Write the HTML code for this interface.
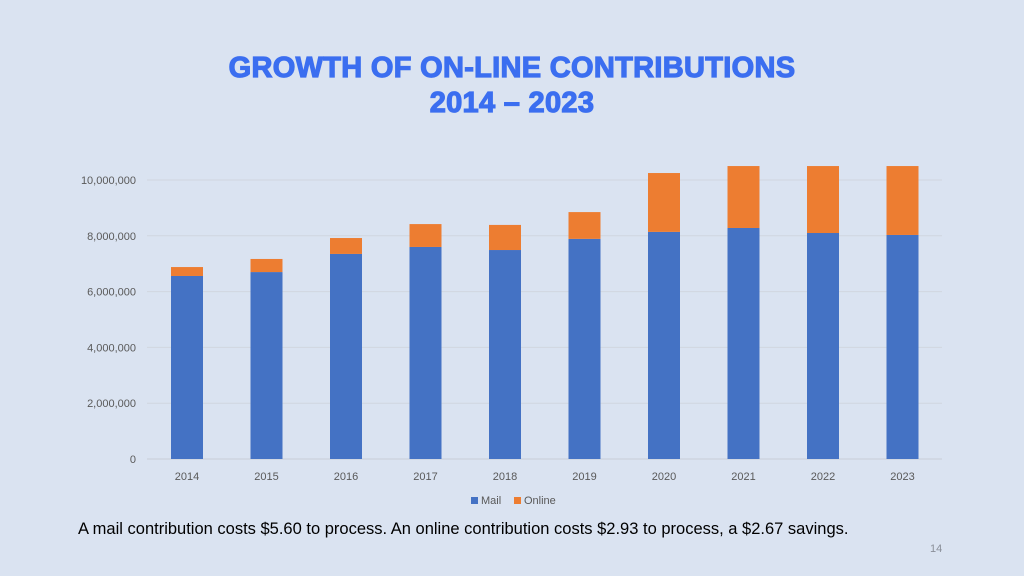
<!DOCTYPE html>
<html><head><meta charset="utf-8"><style>
body{margin:0;width:1024px;height:576px;background:#dae3f1;font-family:"Liberation Sans",sans-serif;overflow:hidden;position:relative}
.t{position:absolute;left:0;width:1024px;text-align:center;color:#3b6ef0;font-weight:bold;font-size:29px;-webkit-text-stroke:1.2px #3b6ef0;letter-spacing:0.3px}
</style></head><body>
<div class="t" style="top:52px">GROWTH OF ON-LINE CONTRIBUTIONS</div>
<div class="t" style="top:87px">2014 – 2023</div>
<svg id="c" width="1024" height="576" style="position:absolute;left:0;top:0"></svg>
<div style="position:absolute;left:78px;top:520px;font-size:16.5px;color:#000">A mail contribution costs $5.60 to process. An online contribution costs $2.93 to process, a $2.67 savings.</div>
<div style="position:absolute;left:930px;top:543px;font-size:11px;color:#8a8f99">14</div>
<script>
const years=["2014","2015","2016","2017","2018","2019","2020","2021","2022","2023"];
const mail=[6.56,6.70,7.35,7.60,7.49,7.89,8.14,8.28,8.10,8.03];
const online=[0.32,0.47,0.57,0.82,0.90,0.96,2.11,2.22,2.40,2.47];
const ticks=[0,2,4,6,8,10];
const ns="http://www.w3.org/2000/svg",svg=document.getElementById('c');
const y=v=>459-v*27.9, x=i=>187+i*79.5;
function mk(t,a){const e=document.createElementNS(ns,t);for(const k in a)e.setAttribute(k,a[k]);svg.appendChild(e);return e;}
ticks.forEach(t=>{
 const g=mk('line',{x1:147,x2:942,y1:y(t),y2:y(t),stroke:t?'#d0d6e0':'#c8ced8','stroke-width':1});
 
 const l=mk('text',{x:136,y:y(t)+4,'text-anchor':'end','font-size':11,fill:'#595959'});
 l.textContent=t?(t*1000000).toLocaleString('en-US'):'0';
 
});
years.forEach((yr,i)=>{
 const m=mk('rect',{x:x(i)-16,width:32,y:y(mail[i]),height:y(0)-y(mail[i]),fill:'#4472c4'});
 
 const o=mk('rect',{x:x(i)-16,width:32,y:y(mail[i]+online[i]),height:y(mail[i])-y(mail[i]+online[i]),fill:'#ed7d31'});
 
 const l=mk('text',{x:x(i),y:480,'text-anchor':'middle','font-size':11,fill:'#595959'});l.textContent=yr;
 
});
[["Mail","#4472c4",471],["Online","#ed7d31",514]].forEach(([n,c,lx])=>{
 const r=mk('rect',{x:lx,y:497,width:7,height:7,fill:c});
 const t=mk('text',{x:lx+10,y:504,'font-size':11,fill:'#595959'});t.textContent=n;
 
});
</script>
</body></html>
